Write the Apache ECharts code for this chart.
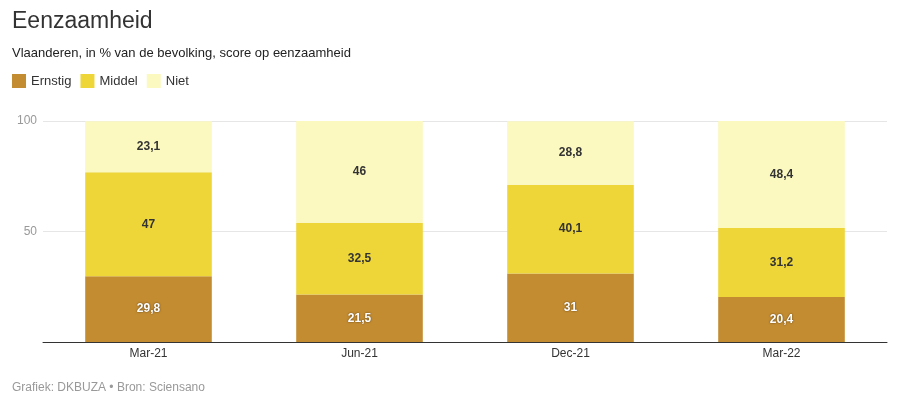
<!DOCTYPE html>
<html><head><meta charset="utf-8">
<script src="https://cdn.jsdelivr.net/npm/echarts@6/dist/echarts.min.js"></script>
<style>html,body{margin:0;padding:0;background:#fff}#c{width:899px;height:405px}</style>
</head><body><div id="c"></div>
<script>
const categories = ['Mar-21', 'Jun-21', 'Dec-21', 'Mar-22'];
const ernstig = [29.8, 21.5, 31, 20.4];
const middel = [47, 32.5, 40.1, 31.2];
const niet = [23.1, 46, 28.8, 48.4];
const yTicks = [0, 50, 100];

const FONT = '"Liberation Sans", Arial, Helvetica, sans-serif';
const fmt = p => String(p.value).replace('.', ',');
function mkSeries(name, data, color, labelColor, shadow) {
  return {
    name, type: 'bar', stack: 'a', data, barWidth: '60%',
    itemStyle: { color },
    emphasis: { disabled: true },
    label: {
      show: true, position: 'inside', formatter: fmt,
      color: labelColor, fontWeight: 'bold', fontSize: 12, fontFamily: FONT,
      textShadowColor: shadow ? 'rgba(0,0,0,0.6)' : 'transparent',
      textShadowBlur: shadow ? 2 : 0
    }
  };
}
const chart = echarts.init(document.getElementById('c'));
chart.setOption({
  animation: false,
  textStyle: { fontFamily: FONT },
  title: [
    { text: 'Eenzaamheid', left: 7, top: 5, textStyle: { fontSize: 23, fontWeight: 'normal', color: '#333', fontFamily: FONT } },
    { text: 'Vlaanderen, in % van de bevolking, score op eenzaamheid', left: 7, top: 42, textStyle: { fontSize: 13, fontWeight: 'normal', color: '#222', fontFamily: FONT } }
  ],
  legend: {
    left: 7, top: 69, itemWidth: 14, itemHeight: 14, itemGap: 9, icon: 'rect',
    textStyle: { fontSize: 13, color: '#333', fontFamily: FONT },
    data: ['Ernstig', 'Middel', 'Niet']
  },
  grid: { left: 43, right: 12, top: 121, bottom: 63, containLabel: false },
  xAxis: {
    type: 'category', data: categories,
    axisLine: { lineStyle: { color: '#333', width: 1 } },
    axisTick: { show: false },
    axisLabel: { color: '#333', fontSize: 12, margin: 6, fontFamily: FONT }
  },
  yAxis: {
    type: 'value', min: 0, max: 100, interval: 50,
    axisLine: { show: false }, axisTick: { show: false },
    axisLabel: { color: '#999', fontSize: 12, margin: 6, fontFamily: FONT,
      formatter: v => (yTicks.includes(v) && v !== 0) ? String(v) : '' },
    splitLine: { lineStyle: { color: '#e6e6e6' } }
  },
  graphic: [{ type: 'text', left: 12, top: 382, style: { text: 'Grafiek: DKBUZA • Bron: Sciensano', fill: '#999', fontSize: 12, fontFamily: FONT } }],
  series: [
    mkSeries('Ernstig', ernstig, '#c48c31', '#fff', true),
    mkSeries('Middel', middel, '#eed639', '#333', false),
    mkSeries('Niet', niet, '#fbf8c0', '#333', false)
  ]
});
</script></body></html>
